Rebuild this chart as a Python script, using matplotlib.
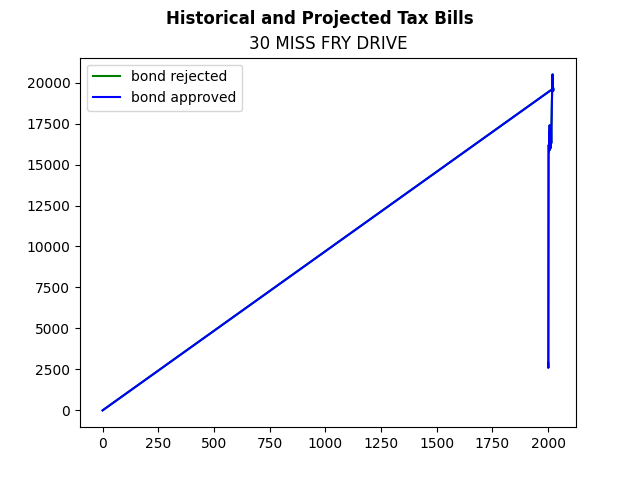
import matplotlib
matplotlib.use("Agg")
import matplotlib.pyplot as plt
from matplotlib.ticker import MultipleLocator

years = [2000, 2001, 2002, 2003, 2004, 2005, 2006, 2007, 2008, 2009, 2010,
         2011, 2012, 2013, 2014, 2015, 2016, 2017, 2018, 2019, 2020, 2021,
         2022, 2023, 2024, 0]
rejected = [2900, 2600, 15600, 16200, 15800, 17000, 16100, 17400, 15900, 16500,
            16800, 16000, 16600, 17100, 16300, 17200, 18000, 18800, 19400, 20000,
            20500, 19900, 19600, 19500, 19650, 0]
approved = [2900, 2600, 15600, 16200, 15800, 17000, 16100, 17400, 15900, 16500,
            16800, 16000, 16600, 17100, 16300, 17200, 18000, 18800, 19400, 20000,
            20500, 19900, 19600, 19500, 19650, 0]

fig, ax = plt.subplots(figsize=(6.4, 4.8), dpi=100)
ax.plot(years, rejected, color="green", label="bond rejected")
ax.plot(years, approved, color="blue", label="bond approved")
ax.yaxis.set_major_locator(MultipleLocator(2500))
ax.legend(loc="upper left")
ax.set_title("30 MISS FRY DRIVE")
fig.suptitle("Historical and Projected Tax Bills", fontweight="bold")

fig.savefig("out.png")
